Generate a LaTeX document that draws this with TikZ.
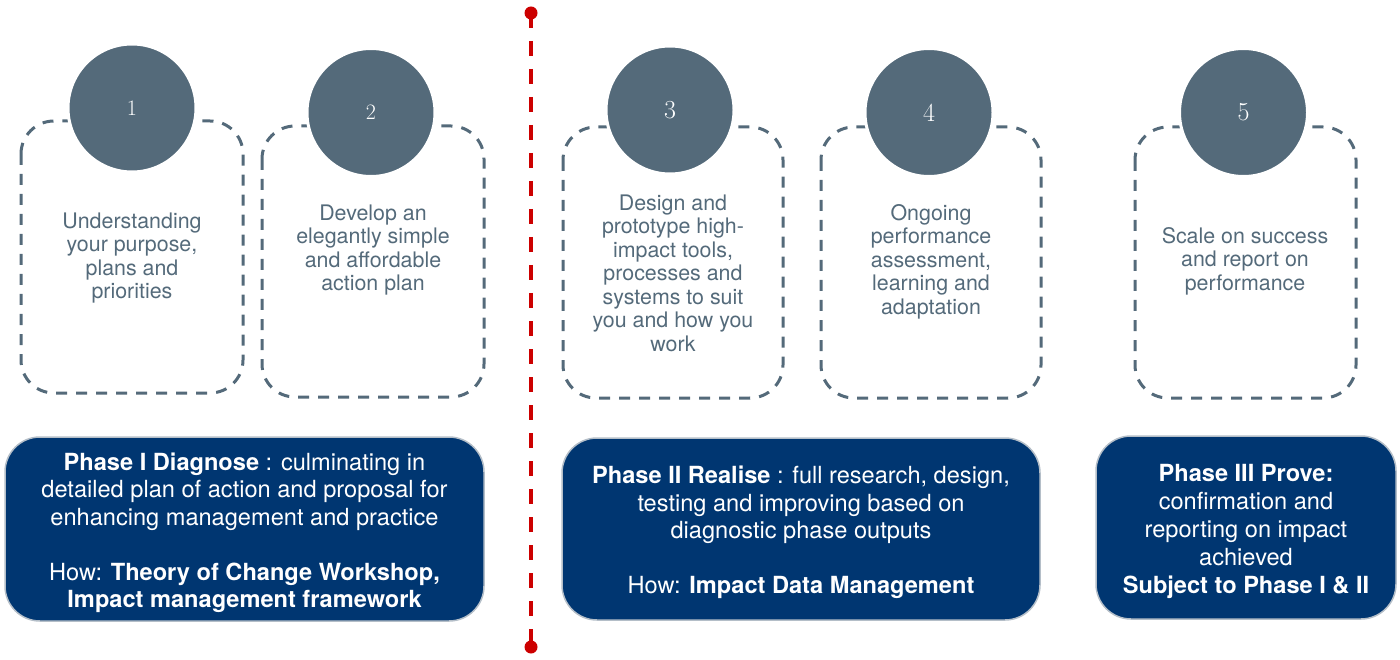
\documentclass[tikz,border=0pt]{standalone}
\usepackage{fontspec}
\newfontfamily\heros{TeX Gyre Heros}
\usepackage{tikz}
\definecolor{slate}{HTML}{546A7A}
\definecolor{phaseblue}{HTML}{003671}
\definecolor{phaseedge}{HTML}{B4BEC8}
\definecolor{divider}{HTML}{CC0000}
\tikzset{
  dashframe/.style={draw=slate, line width=3pt, dash pattern=on 11pt off 9pt, rounded corners=33pt},
  numdot/.style={circle, fill=slate, draw=white, line width=3pt, minimum size=128pt, inner sep=0pt, text=white},
  steptext/.style={align=center, text=slate, font=\heros\fontsize{21.4}{23.5}\selectfont},
  phasebox/.style={draw=phaseedge, line width=1.5pt, fill=phaseblue, rounded corners=35pt, text=white, align=center, inner sep=0pt}
}
\newcommand{\stepframe}[4]{ \draw[dashframe] ( #1 , #2 ) rectangle ( #3 , #4 );}
\newcommand{\stepdot}[5]{\node[numdot, font=\fontsize{#5}{#5}\selectfont] (#3) at ( #1 , #2 ) {#4};}
\newcommand{\toppad}{\rule{0pt}{25pt}}

\begin{document}
\begin{tikzpicture}[x=1pt, y=-1pt]
        \useasboundingbox (0,0) rectangle (1400,660);
        % dashed frames
        \stepframe{21}{121}{243}{393}
        \stepframe{262}{126}{484}{397}
        \stepframe{563}{127}{783}{398}
        \stepframe{821}{127}{1041}{398}
        \stepframe{1135}{127}{1356}{398}
        % numbered dots
        \stepdot{132}{108}{num1}{1}{22}
        \stepdot{371}{112.5}{num2}{2}{22}
        \stepdot{670}{110}{num3}{3}{26}
        \stepdot{929}{112.5}{num4}{4}{26}
        \stepdot{1243.5}{112.5}{num5}{5}{26}
        % step texts
        \node[steptext] (txt1) at (132,258) {Understanding\\your purpose,\\plans and\\priorities};
        \node[steptext] (txt2) at (373,250) {Develop an\\elegantly simple\\and affordable\\action plan};
        \node[steptext] (txt3) at (673,273) {Design and\\prototype high-\\impact tools,\\processes and\\systems to suit\\you and how you\\work};
        \node[steptext] (txt4) at (931,261.5) {Ongoing\\performance\\assessment,\\learning and\\adaptation};
        \node[steptext] (txt5) at (1245,261) {Scale on success\\and report on\\performance};
        % phase boxes
        \node[phasebox, minimum width=479pt, minimum height=184pt, font=\heros\fontsize{23.6}{27.5}\selectfont] (phase1) at (244.5,529)
          {\toppad\textbf{Phase I Diagnose} : culminating in\\detailed plan of action and proposal for\\enhancing management and practice\\[27.5pt]How: \textbf{Theory of Change Workshop,}\\\textbf{Impact management framework}};
        \node[phasebox, minimum width=478pt, minimum height=182pt, font=\heros\fontsize{23.6}{27.5}\selectfont] (phase2) at (801,529)
          {\toppad\textbf{Phase II Realise} : full research, design,\\testing and improving based on\\diagnostic phase outputs\\[27.5pt]How: \textbf{Impact Data Management}};
        \node[phasebox, minimum width=300pt, minimum height=183pt, font=\heros\fontsize{23.6}{28}\selectfont] (phase3) at (1246,527.5)
          {\toppad\textbf{Phase III Prove:}\\confirmation and\\reporting on impact\\achieved\\\textbf{Subject to Phase I \& II}};
        % divider
        \coordinate (divtop) at (531,13);
        \coordinate (divbot) at (531,647);
        \draw[divider, line width=3.3pt, dash pattern=on 15pt off 13pt] (divtop) -- (divbot);
        \fill[divider] (divtop) circle (6.5pt);
        \fill[divider] (divbot) circle (6.5pt);
\end{tikzpicture}
\end{document}
